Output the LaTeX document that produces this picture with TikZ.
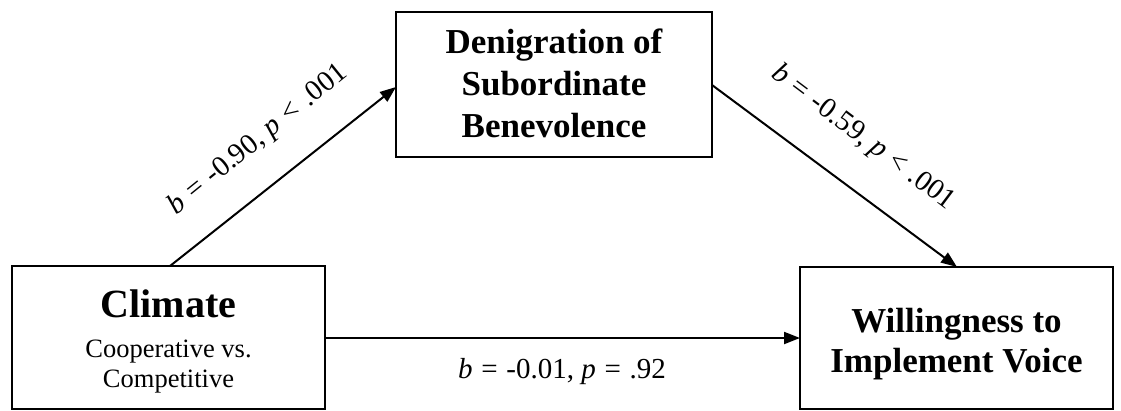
\documentclass[tikz,border=0pt]{standalone}
\usepackage{fontspec}
\setmainfont{Liberation Serif}
\usetikzlibrary{arrows.meta}
\newcommand{\gp}{\hspace{0.3em}}
\tikzset{
  box/.style={draw=black, line width=2.5pt, inner sep=0pt, fill=white},
  conn/.style={line width=2pt, -{Triangle[length=16pt,width=12pt]}},
  lbl/.style={font=\fontsize{29}{32}\selectfont, inner sep=0pt},
  title/.style={font=\fontsize{35}{41}\selectfont\bfseries, align=center, inner sep=0pt}
}
\begin{document}
\begin{tikzpicture}[x=1pt,y=-1pt]
\useasboundingbox (0,0) rectangle (1121,410);
% boxes
\node[box, minimum width=313pt, minimum height=143pt] (clim) at (168.5,337.5) {};
\node[box, minimum width=316pt, minimum height=145pt] (den) at (554,84.5) {};
\node[box, minimum width=313pt, minimum height=142pt] (will) at (956.5,338) {};
% texts
\node[font=\fontsize{40}{44}\selectfont\bfseries, anchor=base, inner sep=0pt] (climt) at (168.5,317) {Climate};
\node[font=\fontsize{26.5}{30}\selectfont, anchor=base, inner sep=0pt] (clims1) at (168.5,357) {Cooperative vs.};
\node[font=\fontsize{26.5}{30}\selectfont, anchor=base, inner sep=0pt] (clims2) at (168.5,387) {Competitive};
\node[title, anchor=base] (dent1) at (554,53) {Denigration of};
\node[title, anchor=base] (dent2) at (554,95) {Subordinate};
\node[title, anchor=base] (dent3) at (554,137) {Benevolence};
\node[title, anchor=base] (willt1) at (956.5,332) {Willingness to};
\node[title, anchor=base] (willt2) at (956.5,372) {Implement Voice};
% connectors
\coordinate (a1s) at (170,266);
\coordinate (a1e) at (396,87);
\coordinate (a2s) at (712,85);
\coordinate (a2e) at (957,267);
\coordinate (a3s) at (325,338);
\coordinate (a3e) at (800,338);
\draw[conn] (a1s) -- (a1e);
\draw[conn] (a2s) -- (a2e);
\draw[conn] (a3s) -- (a3e);
% labels
\node[lbl, rotate=39] (l1) at (258,140) {\textit{b}\gp=\gp-0.90, \textit{p}\gp{<}\gp.001};
\node[lbl, rotate=-37] (l2) at (863,138) {\textit{b}\gp=\gp-0.59, \textit{p}\gp{<}\gp.001};
\node[lbl, anchor=base] (l3) at (562,378) {\textit{b}\gp=\gp-0.01, \textit{p}\gp=\gp.92};
\end{tikzpicture}
\end{document}
